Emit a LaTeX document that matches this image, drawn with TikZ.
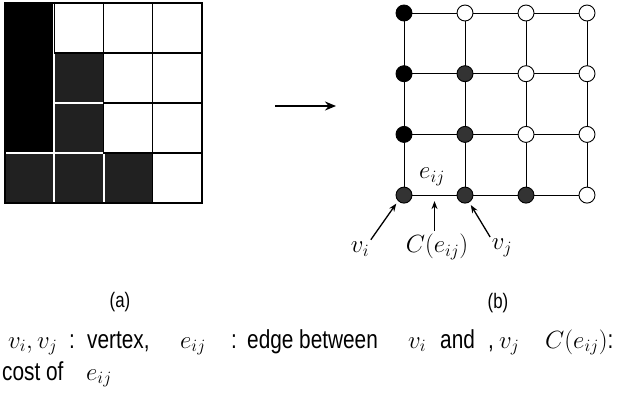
\documentclass[tikz,border=0pt]{standalone}
\usepackage[no-math]{fontspec}
\setmainfont{Liberation Sans}[FakeStretch=0.8]
\usetikzlibrary{arrows.meta,calc}
\definecolor{CellClr}{rgb}{0.13,0.13,0.13}
\definecolor{VertexClr}{rgb}{0.2,0.2,0.2}

\tikzset{
  vtx/.style={circle,draw=black,line width=0.9pt,minimum size=16pt,inner sep=0pt},
  vtxB/.style={vtx,fill=black},
  vtxG/.style={vtx,fill=VertexClr},
  vtxW/.style={vtx,fill=white},
  lbl/.style={inner sep=1pt,font=\fontsize{23}{25}\selectfont},
  txt/.style={inner sep=0pt,anchor=base west,font=\fontsize{26}{30}\selectfont},
  captxt/.style={inner sep=0pt,font=\fontsize{21}{24}\selectfont},
  pointer/.style={line width=1.3pt,-{Stealth[length=8pt,width=6pt]}}
}

\begin{document}
\begin{tikzpicture}[x=1pt,y=-1pt]
\useasboundingbox (0,0) rectangle (620,394);

\def\cw{49.25}
\def\ch{50}

\fill[black,draw=white,line width=2pt] (5,3) rectangle (5+\cw,3+3*\ch);
\foreach \c/\r in {1/1,1/2,0/3,1/3,2/3}
  \fill[CellClr,draw=white,line width=2pt] (5+\c*\cw,3+\r*\ch) rectangle ++(\cw,\ch);
\foreach \c/\r in {1/0,2/0,3/0,2/1,3/1,2/2,3/2,3/3}
  \draw[line width=1.2pt] (5+\c*\cw,3+\r*\ch) rectangle ++(\cw,\ch);
\draw[line width=1.4pt] (5,3) rectangle (5+4*\cw,3+4*\ch);

\coordinate (arrS) at (275,106);
\coordinate (arrE) at (336,106);
\draw[line width=1.8pt,-{Stealth[length=11pt,width=9pt]}] (arrS) -- (arrE);

\foreach \c in {0,1,2,3}
  \foreach \r in {0,1,2,3}
    \coordinate (p-\c-\r) at (404+61*\c,13+60.7*\r);

\foreach \r in {0,1,2,3}
  \draw[line width=1pt] (p-0-\r) -- (p-3-\r);
\foreach \c in {0,1,2,3}
  \draw[line width=1pt] (p-\c-0) -- (p-\c-3);

\foreach \c/\r/\s in {0/0/vtxB,1/0/vtxW,2/0/vtxW,3/0/vtxW,
                      0/1/vtxB,1/1/vtxG,2/1/vtxW,3/1/vtxW,
                      0/2/vtxB,1/2/vtxG,2/2/vtxW,3/2/vtxW,
                      0/3/vtxG,1/3/vtxG,2/3/vtxG,3/3/vtxW}
  \node[\s] (v-\c-\r) at (p-\c-\r) {};

\coordinate (eij) at ($(v-0-3)!0.5!(v-1-3)$);
\node[lbl] (eLbl) at (432,177) {$e_{ij}$};
\node[lbl] (viLbl) at (360,249) {$v_i$};
\node[lbl] (cLbl) at (437,247) {$C(e_{ij})$};
\node[lbl] (vjLbl) at (502,248) {$v_j$};

\draw[pointer,shorten <=1pt,shorten >=3pt] (viLbl.north east) -- (v-0-3.225);
\draw[pointer,shorten <=2pt,shorten >=6pt] (cLbl.north -| eij) -- (eij);
\draw[pointer,shorten <=1pt,shorten >=3pt] (vjLbl.north west) -- (v-1-3.300);

\node[captxt] (capA) at (120,302) {(a)};
\node[captxt] (capB) at (498,303) {(b)};

\foreach \x/\t [count=\k] in {8/{$v_i, v_j$},69/{:},87/{vertex,},180/{$e_{ij}$},231/{:},
                             247/{edge between},408/{$v_i$},440/{and},488/{,},
                             499/{$v_j$},545/{$C(e_{ij})$:}}
  \node[txt] (w\k) at (\x,348) {\t};
\node[txt] (cost) at (2,380) {cost of};
\node[txt] (costE) at (86,380) {$e_{ij}$};

\end{tikzpicture}
\end{document}
